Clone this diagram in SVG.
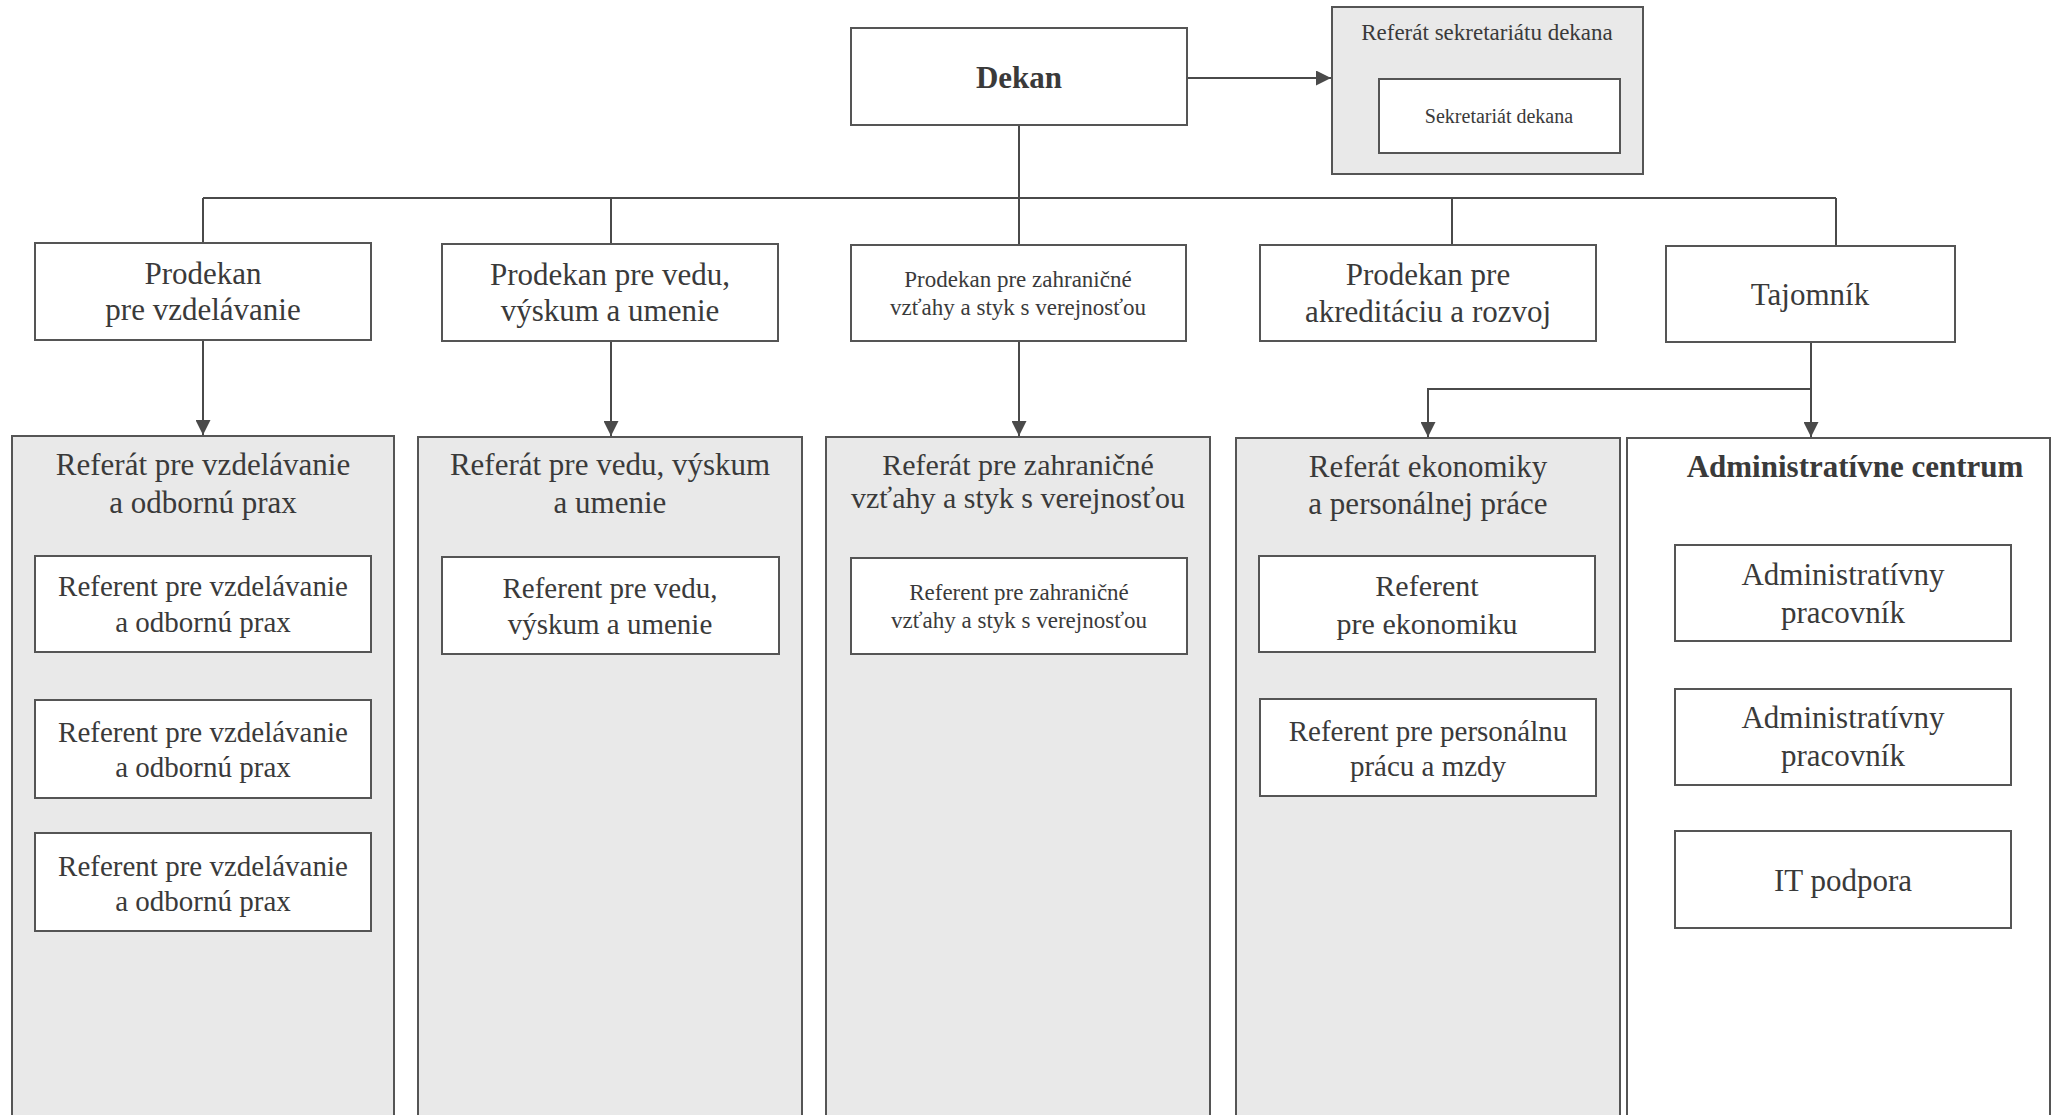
<svg xmlns="http://www.w3.org/2000/svg" width="2057" height="1115" viewBox="0 0 2057 1115">
<defs>
<style>
.box{fill:#ffffff;stroke:#555;stroke-width:2}
.panel{fill:#e9e9e9;stroke:#555;stroke-width:2}
.wpanel{fill:#ffffff;stroke:#555;stroke-width:2}
.t{font-family:"Liberation Serif","Times New Roman",serif;fill:#3a3a3a;text-anchor:middle}
.b{font-weight:bold}
.l{font-size:31px}
.s{font-size:23px}
.m{font-size:29px}
.c{stroke:#4a4a4a;stroke-width:2;fill:none}
</style>
<marker id="arr" markerWidth="16" markerHeight="15" refX="15" refY="7.5" orient="auto" markerUnits="userSpaceOnUse">
<path d="M0,0 L15,7.5 L0,15 Z" fill="#4a4a4a"/>
</marker>
</defs>
<rect width="2057" height="1115" fill="#ffffff"/>

<g id="connectors">
<line class="c" x1="1187" y1="78" x2="1331" y2="78" marker-end="url(#arr)"/>
<line class="c" x1="1019" y1="125" x2="1019" y2="198"/>
<line class="c" x1="203" y1="198" x2="1836" y2="198"/>
<line class="c" x1="203" y1="198" x2="203" y2="243"/>
<line class="c" x1="611" y1="198" x2="611" y2="244"/>
<line class="c" x1="1019" y1="198" x2="1019" y2="245"/>
<line class="c" x1="1452" y1="198" x2="1452" y2="245"/>
<line class="c" x1="1836" y1="198" x2="1836" y2="246"/>
<line class="c" x1="203" y1="340" x2="203" y2="435" marker-end="url(#arr)"/>
<line class="c" x1="611" y1="341" x2="611" y2="436" marker-end="url(#arr)"/>
<line class="c" x1="1019" y1="341" x2="1019" y2="436" marker-end="url(#arr)"/>
<line class="c" x1="1811" y1="342" x2="1811" y2="437" marker-end="url(#arr)"/>
<polyline class="c" points="1811,389 1428,389 1428,437" marker-end="url(#arr)"/>
</g>

<g id="dekan">
<rect class="box" x="851" y="28" width="336" height="97"/>
<text class="t b l" x="1019" y="88">Dekan</text>
</g>

<g id="referat-sekretariatu">
<rect class="panel" x="1332" y="7" width="311" height="167"/>
<text class="t" style="font-size:23px" x="1487" y="40">Referát sekretariátu dekana</text>
</g>
<g id="sekretariat">
<rect class="box" x="1379" y="79" width="241" height="74"/>
<text class="t" style="font-size:20px" x="1499" y="123">Sekretariát dekana</text>
</g>

<g id="prodekan-vzdelavanie">
<rect class="box" x="35" y="243" width="336" height="97"/>
<text class="t l" x="203" y="284">Prodekan</text>
<text class="t l" x="203" y="320">pre vzdelávanie</text>
</g>
<g id="prodekan-veda">
<rect class="box" x="442" y="244" width="336" height="97"/>
<text class="t l" x="610" y="285">Prodekan pre vedu,</text>
<text class="t l" x="610" y="321">výskum a umenie</text>
</g>
<g id="prodekan-zahranicne">
<rect class="box" x="851" y="245" width="335" height="96"/>
<text class="t s" x="1018" y="287">Prodekan pre zahraničné</text>
<text class="t s" x="1018" y="315">vzťahy a styk s verejnosťou</text>
</g>
<g id="prodekan-akreditacia">
<rect class="box" x="1260" y="245" width="336" height="96"/>
<text class="t l" x="1428" y="285">Prodekan pre</text>
<text class="t l" x="1428" y="322">akreditáciu a rozvoj</text>
</g>
<g id="tajomnik">
<rect class="box" x="1666" y="246" width="289" height="96"/>
<text class="t l" x="1810" y="305">Tajomník</text>
</g>

<g id="referat-vzdelavanie">
<rect class="panel" x="12" y="436" width="382" height="720"/>
<text class="t l" x="203" y="475">Referát pre vzdelávanie</text>
<text class="t l" x="203" y="513">a odbornú prax</text>
</g>
<g id="referent-vzdelavanie-1">
<rect class="box" x="35" y="556" width="336" height="96"/>
<text class="t m" x="203" y="596">Referent pre vzdelávanie</text>
<text class="t m" x="203" y="632">a odbornú prax</text>
</g>
<g id="referent-vzdelavanie-2">
<rect class="box" x="35" y="700" width="336" height="98"/>
<text class="t m" x="203" y="742">Referent pre vzdelávanie</text>
<text class="t m" x="203" y="777">a odbornú prax</text>
</g>
<g id="referent-vzdelavanie-3">
<rect class="box" x="35" y="833" width="336" height="98"/>
<text class="t m" x="203" y="876">Referent pre vzdelávanie</text>
<text class="t m" x="203" y="911">a odbornú prax</text>
</g>

<g id="referat-veda">
<rect class="panel" x="418" y="437" width="384" height="720"/>
<text class="t l" x="610" y="475">Referát pre vedu, výskum</text>
<text class="t l" x="610" y="513">a umenie</text>
</g>
<g id="referent-veda">
<rect class="box" x="442" y="557" width="337" height="97"/>
<text class="t m" x="610" y="598">Referent pre vedu,</text>
<text class="t m" x="610" y="634">výskum a umenie</text>
</g>

<g id="referat-zahranicne">
<rect class="panel" x="826" y="437" width="384" height="720"/>
<text class="t" style="font-size:30px" x="1018" y="475">Referát pre zahraničné</text>
<text class="t" style="font-size:30px" x="1018" y="508">vzťahy a styk s verejnosťou</text>
</g>
<g id="referent-zahranicne">
<rect class="box" x="851" y="558" width="336" height="96"/>
<text class="t s" x="1019" y="600">Referent pre zahraničné</text>
<text class="t s" x="1019" y="628">vzťahy a styk s verejnosťou</text>
</g>

<g id="referat-ekonomiky">
<rect class="panel" x="1236" y="438" width="384" height="720"/>
<text class="t l" x="1428" y="477">Referát ekonomiky</text>
<text class="t l" x="1428" y="514">a personálnej práce</text>
</g>
<g id="referent-ekonomika">
<rect class="box" x="1259" y="556" width="336" height="96"/>
<text class="t" style="font-size:30px" x="1427" y="596">Referent</text>
<text class="t" style="font-size:30px" x="1427" y="634">pre ekonomiku</text>
</g>
<g id="referent-personalna">
<rect class="box" x="1260" y="699" width="336" height="97"/>
<text class="t m" x="1428" y="741">Referent pre personálnu</text>
<text class="t m" x="1428" y="776">prácu a mzdy</text>
</g>

<g id="administrativne-centrum">
<rect class="wpanel" x="1627" y="438" width="423" height="720"/>
<text class="t b l" x="1855" y="477">Administratívne centrum</text>
</g>
<g id="admin-pracovnik-1">
<rect class="box" x="1675" y="545" width="336" height="96"/>
<text class="t l" x="1843" y="585">Administratívny</text>
<text class="t l" x="1843" y="623">pracovník</text>
</g>
<g id="admin-pracovnik-2">
<rect class="box" x="1675" y="689" width="336" height="96"/>
<text class="t l" x="1843" y="728">Administratívny</text>
<text class="t l" x="1843" y="766">pracovník</text>
</g>
<g id="it-podpora">
<rect class="box" x="1675" y="831" width="336" height="97"/>
<text class="t l" x="1843" y="891">IT podpora</text>
</g>
</svg>
